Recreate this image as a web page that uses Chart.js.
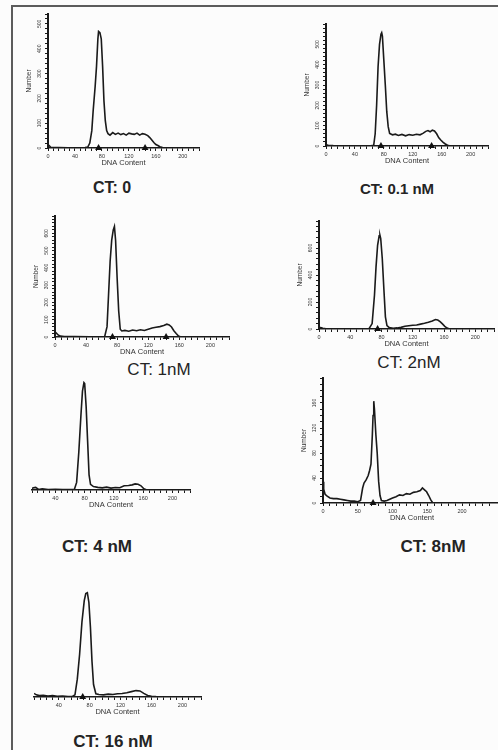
<!DOCTYPE html>
<html lang="en">
<head>
<meta charset="utf-8">
<title>DNA content histograms</title>
<script src="https://cdn.jsdelivr.net/npm/chart.js@4.4.1/dist/chart.umd.min.js"></script>
<style>
  html, body { margin: 0; padding: 0; width: 498px; height: 750px; overflow: hidden; background: #fcfcfc; }
  #moldura { position: absolute; left: 11px; top: 5px; width: 485px; height: 760px;
             border-left: 2px solid #5c5c5c; border-top: 2px solid #5c5c5c; border-right: 1px solid #d6d6d6; }
  canvas { position: absolute; }
  .titulo { position: absolute; transform: translate(-50%, -50%); white-space: nowrap;
            font-family: "Liberation Sans", Arial, sans-serif; color: #242424; }
</style>
</head>
<body>
<div id="moldura"></div>
<script>

// CT: 0
const ct0X = [0, 2, 4, 8, 16, 30, 45, 55, 59, 62, 65, 67, 70, 72, 74, 75, 77, 79, 81, 83, 85, 87, 89, 92, 96, 100, 104, 108, 112, 116, 120, 124, 128, 132, 136, 140, 144, 148, 151, 154, 157, 160, 163, 166, 170, 175];
const ct0Y = [14, 9, 3, 2, 2, 1, 1, 2, 4, 20, 70, 150, 250, 330, 440, 470, 465, 440, 330, 190, 110, 70, 58, 52, 62, 55, 60, 54, 58, 52, 60, 57, 55, 60, 52, 58, 55, 50, 42, 32, 22, 14, 10, 5, 2, 0];
const ct0Marcas = [75, 144];

// CT: 0.1 nM
const ct01X = [0, 3, 10, 30, 50, 62, 66, 68, 70, 72, 74, 76, 77, 78, 80, 82, 84, 86, 88, 92, 96, 100, 105, 110, 115, 120, 125, 130, 134, 138, 141, 144, 147, 150, 153, 156, 159, 162, 165, 168, 172];
const ct01Y = [6, 3, 2, 1, 1, 1, 4, 60, 200, 390, 500, 550, 557, 540, 420, 300, 170, 95, 62, 55, 58, 52, 57, 50, 56, 53, 58, 55, 62, 72, 76, 70, 78, 74, 60, 40, 28, 18, 10, 4, 0];
const ct01Marcas = [76, 146];

// CT: 1nM
const ct1X = [0, 2, 4, 7, 12, 25, 45, 60, 64, 67, 69, 71, 73, 75, 76.5, 78, 80, 82, 84, 86, 90, 95, 100, 105, 110, 115, 120, 125, 130, 135, 140, 144, 147, 150, 153, 156, 159, 162];
const ct1Y = [30, 22, 12, 5, 3, 2, 1, 1, 3, 60, 250, 440, 560, 620, 640, 560, 340, 150, 45, 35, 38, 33, 40, 36, 42, 38, 45, 52, 56, 60, 66, 74, 70, 58, 36, 20, 6, 0];
const ct1Marcas = [74, 143];

// CT: 2nM
const ct2X = [0, 2, 5, 8, 15, 30, 50, 64, 68, 71, 73, 75, 77, 78, 79, 81, 83, 85, 87, 90, 95, 100, 105, 110, 115, 120, 125, 130, 135, 140, 145, 149, 152, 155, 158, 161, 164, 167];
const ct2Y = [14, 10, 6, 3, 2, 1, 1, 2, 40, 250, 460, 620, 690, 695, 670, 520, 300, 90, 25, 10, 6, 8, 12, 20, 24, 28, 30, 36, 42, 50, 60, 70, 66, 55, 38, 20, 7, 0];
const ct2Marcas = [75];

// CT: 4 nM
const ct4X = [8, 10, 13, 17, 22, 30, 40, 50, 60, 66, 69, 72, 75, 77, 79, 80, 82, 84, 86, 88, 92, 98, 104, 110, 116, 122, 128, 134, 140, 145, 149, 153, 157, 161, 165];
const ct4Y = [8, 12, 14, 3, 6, 2, 4, 2, 3, 4, 40, 200, 400, 520, 565, 560, 440, 260, 80, 30, 18, 14, 11, 15, 10, 13, 12, 22, 24, 27, 32, 30, 22, 6, 0];
const ct4Marcas = [];

// CT: 8nM
const ct8X = [0, 1, 3, 6, 10, 15, 20, 25, 30, 35, 40, 45, 50, 54, 57, 59, 62, 65, 67, 69, 71, 72, 73, 74, 76, 78, 80, 82, 84, 88, 92, 96, 100, 105, 110, 115, 120, 125, 130, 135, 140, 143, 146, 149, 152, 155, 158];
const ct8Y = [34, 22, 14, 11, 8, 7, 7, 6, 5, 4, 3, 3, 2, 4, 24, 32, 37, 44, 52, 62, 110, 140, 163, 150, 110, 79, 35, 12, 4, 3, 4, 6, 8, 10, 13, 12, 15, 14, 17, 18, 20, 24, 21, 18, 12, 5, 0];
const ct8Marcas = [72];

// CT: 16 nM
const ct16X = [8, 11, 15, 20, 26, 32, 38, 45, 52, 58, 61, 64, 67, 70, 73, 75, 77, 79, 81, 83, 85, 88, 92, 98, 104, 110, 116, 122, 128, 134, 140, 145, 150, 155, 160, 165, 168];
const ct16Y = [20, 12, 8, 10, 5, 8, 4, 6, 3, 4, 12, 100, 240, 420, 540, 580, 585, 530, 390, 200, 70, 18, 14, 12, 16, 14, 18, 20, 24, 30, 36, 34, 20, 8, 4, 2, 0];
const ct16Marcas = [71];

// Rótulos dos eixos
const rotulosX40 = [0, 40, 80, 120, 160, 200];
const rotulosX40sem0 = [40, 80, 120, 160, 200];
const rotulosX50 = [0, 50, 100, 150, 200, 250];
const rotulosY500 = [0, 100, 200, 300, 400, 500];
const rotulosY600 = [0, 100, 200, 300, 400, 500, 600];
const rotulosY2nM = [0, 200, 400, 600];
const rotulosY8nM = [0, 40, 80, 120, 160];
const semRotulos = [];

const titulos = ['CT: 0', 'CT: 0.1 nM', 'CT: 1nM', 'CT: 2nM', 'CT: 4 nM', 'CT: 8nM', 'CT: 16 nM'];

// Painéis: dados + rótulos
const paineis = [
  { x: ct0X,  y: ct0Y,  marcas: ct0Marcas,  xRot: rotulosX40,     yRot: rotulosY500 },
  { x: ct01X, y: ct01Y, marcas: ct01Marcas, xRot: rotulosX40,     yRot: rotulosY500 },
  { x: ct1X,  y: ct1Y,  marcas: ct1Marcas,  xRot: rotulosX40,     yRot: rotulosY600 },
  { x: ct2X,  y: ct2Y,  marcas: ct2Marcas,  xRot: rotulosX40,     yRot: rotulosY2nM },
  { x: ct4X,  y: ct4Y,  marcas: ct4Marcas,  xRot: rotulosX40sem0, yRot: semRotulos },
  { x: ct8X,  y: ct8Y,  marcas: ct8Marcas,  xRot: rotulosX50,     yRot: rotulosY8nM },
  { x: ct16X, y: ct16Y, marcas: ct16Marcas, xRot: rotulosX40sem0, yRot: semRotulos }
];

// Layout: área de plotagem em px, faixa das escalas, passos dos ticks, título
const layout = [
  { area: [48, 13, 199, 148],    xMin: 0, xMax: 224, yMax: 540, passoX: 8,  passoY: 20, tit: [112, 188, 16, 'bold'] },
  { area: [326, 23, 488, 146],   xMin: 0, xMax: 224, yMax: 600, passoX: 8,  passoY: 20, tit: [397, 188, 15, 'bold'] },
  { area: [55, 215, 229, 337],   xMin: 0, xMax: 224, yMax: 700, passoX: 8,  passoY: 20, tit: [159, 370, 17, 'normal'] },
  { area: [319, 220, 494, 329],  xMin: 0, xMax: 224, yMax: 800, passoX: 8,  passoY: 40, tit: [409, 363, 17, 'normal'] },
  { area: [30, 376, 190, 490],   xMin: 8, xMax: 224, yMax: 600, passoX: 8,  passoY: 40, tit: [97, 547, 17, 'bold'] },
  { area: [323, 377, 501, 503],  xMin: 0, xMax: 256, yMax: 200, passoX: 10, passoY: 10, tit: [433, 547, 17, 'bold'] },
  { area: [30, 589, 201, 697],   xMin: 8, xMax: 224, yMax: 600, passoX: 8,  passoY: 40, tit: [113, 742, 17, 'bold'] }
];

const fonte = '"Liberation Sans", Arial, sans-serif';
const corTraco = '#1a1a1a';

// Rótulos do eixo Y escritos na vertical
const rotulosYPlugin = {
  id: 'rotulosY',
  afterDraw(chart, args, opts) {
    const valores = opts.valores || [];
    if (!valores.length) return;
    const esc = chart.scales.y;
    const ctx = chart.ctx;
    ctx.save();
    ctx.font = '5px ' + fonte;
    ctx.fillStyle = '#333';
    ctx.textAlign = 'center';
    ctx.textBaseline = 'middle';
    valores.forEach(v => {
      ctx.save();
      ctx.translate(esc.right - 8, esc.getPixelForValue(v));
      ctx.rotate(-Math.PI / 2);
      ctx.fillText(String(v), 0, 0);
      ctx.restore();
    });
    ctx.restore();
  }
};

function desenharPainel(p, l, titulo) {
  const temY = p.yRot.length > 0;
  const larguraY = temY ? 22 : 0, alturaX = 19, folgaTopo = 3, folgaDir = 4;
  const [aL, aT, aR, aB] = l.area;

  const canvas = document.createElement('canvas');
  const left = aL - larguraY, top = aT - folgaTopo;
  const w = aR + folgaDir - left, h = aB + alturaX - top;
  canvas.width = w; canvas.height = h;
  canvas.style.left = left + 'px'; canvas.style.top = top + 'px';
  canvas.style.width = w + 'px'; canvas.style.height = h + 'px';
  document.body.appendChild(canvas);

  new Chart(canvas.getContext('2d'), {
    type: 'line',
    data: {
      datasets: [
        {
          data: p.x.map((x, i) => ({ x: x, y: p.y[i] })),
          borderColor: corTraco,
          borderWidth: 1.6,
          pointRadius: 0,
          tension: 0,
          fill: false
        },
        {
          type: 'scatter',
          data: p.marcas.map(x => ({ x: x, y: 0 })),
          pointStyle: 'triangle',
          pointRadius: 4,
          backgroundColor: '#111',
          borderColor: '#111',
          borderWidth: 0,
          clip: false
        }
      ]
    },
    options: {
      responsive: false,
      animation: false,
      devicePixelRatio: 1,
      layout: { padding: { top: folgaTopo, right: folgaDir, left: 0, bottom: 0 } },
      plugins: {
        legend: { display: false },
        tooltip: { enabled: false },
        rotulosY: { valores: p.yRot }
      },
      scales: {
        x: {
          type: 'linear',
          min: l.xMin, max: l.xMax,
          afterFit: s => { s.height = alturaX; },
          grid: { drawOnChartArea: false, drawTicks: true, tickLength: 3, color: corTraco, lineWidth: 1 },
          border: { display: true, color: corTraco, width: 1.4 },
          ticks: {
            stepSize: l.passoX, autoSkip: false, maxRotation: 0, minRotation: 0, padding: 2,
            color: '#333', font: { size: 5.5, family: fonte },
            callback: v => p.xRot.includes(v) ? String(v) : ''
          },
          title: { display: true, text: 'DNA Content', color: '#333',
                   font: { size: 7.5, family: fonte, lineHeight: 1 }, padding: { top: 0, bottom: 0 } }
        },
        y: {
          display: temY,
          min: 0, max: l.yMax,
          afterFit: s => { s.width = larguraY; },
          grid: { drawOnChartArea: false, drawTicks: true, tickLength: 3, color: corTraco, lineWidth: 1 },
          border: { display: true, color: corTraco, width: 2 },
          ticks: { stepSize: l.passoY, display: false },
          title: { display: true, text: 'Number', color: '#333',
                   font: { size: 6.5, family: fonte, lineHeight: 1 }, padding: 0 }
        }
      }
    },
    plugins: [rotulosYPlugin]
  });

  // Título do painel
  const t = document.createElement('div');
  t.className = 'titulo';
  t.textContent = titulo;
  t.style.left = l.tit[0] + 'px';
  t.style.top = l.tit[1] + 'px';
  t.style.fontSize = l.tit[2] + 'px';
  t.style.fontWeight = l.tit[3];
  document.body.appendChild(t);
}

paineis.forEach((p, i) => desenharPainel(p, layout[i], titulos[i]));
</script>
</body>
</html>
